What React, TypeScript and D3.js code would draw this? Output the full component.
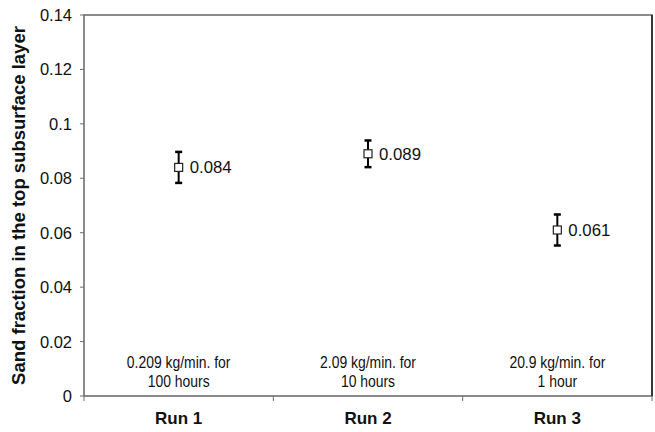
import React from "react";
import * as d3 from "d3";

const runs = ["Run 1", "Run 2", "Run 3"];
const fractions = [0.084, 0.089, 0.061];
const errors = [0.0057, 0.0049, 0.0057];
const feedLine1 = ["0.209 kg/min. for", "2.09 kg/min. for", "20.9 kg/min. for"];
const feedLine2 = ["100 hours", "10 hours", "1 hour"];
const yTicks = [0, 0.02, 0.04, 0.06, 0.08, 0.1, 0.12, 0.14];

const W = 655;
const H = 432;
const m = { left: 84, right: 3, top: 15, bottom: 36 };

export default function App() {
  const x = d3
    .scaleBand<string>()
    .domain(runs)
    .range([m.left, W - m.right])
    .paddingInner(0)
    .paddingOuter(0);
  const y = d3.scaleLinear().domain([0, 0.14]).range([H - m.bottom, m.top]);
  const font = "Arial, 'Liberation Sans', Helvetica, sans-serif";
  const axisColor = "#6e6e6e";
  const x0 = m.left;
  const x1 = W - m.right;
  const yb = y(0);
  const yt = y(0.14);
  const bw = x.bandwidth();

  return (
    <svg
      width={W}
      height={H}
      style={{ position: "absolute", left: 0, top: 0, background: "#fff" }}
      fontFamily={font}
    >
      <rect x={0} y={0} width={W} height={H} fill="#fff" />
      {/* plot frame */}
      <rect x={x0} y={yt} width={x1 - x0} height={yb - yt} fill="none" stroke={axisColor} strokeWidth={1.6} />
      <line x1={x1} y1={yt} x2={x1} y2={yb} stroke="#222" strokeWidth={1.6} />

      {/* y axis ticks and labels */}
      {yTicks.map((t) => (
        <g key={t}>
          <line x1={x0 - 4} x2={x0} y1={y(t)} y2={y(t)} stroke={axisColor} strokeWidth={1} />
          <text x={x0 - 12} y={y(t)} dy="0.36em" textAnchor="end" fontSize={16.5} fill="#111">
            {String(t)}
          </text>
        </g>
      ))}

      {/* x axis category separators */}
      {[0, 1, 2, 3].map((i) => (
        <line
          key={i}
          x1={x0 + i * bw}
          x2={x0 + i * bw}
          y1={yb}
          y2={yb + 5}
          stroke={axisColor}
          strokeWidth={1}
        />
      ))}
      {runs.map((r) => (
        <text
          key={r}
          x={(x(r) as number) + bw / 2}
          y={yb + 28}
          textAnchor="middle"
          fontSize={17}
          fontWeight="bold"
          fill="#111"
        >
          {r}
        </text>
      ))}

      {/* feed rate notes */}
      {runs.map((r, i) => {
        const cx = (x(r) as number) + bw / 2;
        return (
          <g key={r}>
            <text
              transform={`translate(${cx}, ${yb - 28}) scale(0.87, 1)`}
              textAnchor="middle"
              fontSize={16}
              fill="#111"
            >
              {feedLine1[i]}
            </text>
            <text
              transform={`translate(${cx}, ${yb - 9}) scale(0.87, 1)`}
              textAnchor="middle"
              fontSize={16}
              fill="#111"
            >
              {feedLine2[i]}
            </text>
          </g>
        );
      })}

      {/* data points with error bars */}
      {runs.map((r, i) => {
        const cx = (x(r) as number) + bw / 2;
        const cy = y(fractions[i]);
        const hi = y(fractions[i] + errors[i]);
        const lo = y(fractions[i] - errors[i]);
        return (
          <g key={r}>
            <line x1={cx} x2={cx} y1={hi} y2={lo} stroke="#000" strokeWidth={2} />
            <line x1={cx - 3.5} x2={cx + 3.5} y1={hi} y2={hi} stroke="#000" strokeWidth={2.5} />
            <line x1={cx - 3.5} x2={cx + 3.5} y1={lo} y2={lo} stroke="#000" strokeWidth={2.5} />
            <rect x={cx - 4} y={cy - 4} width={8} height={8} fill="#fff" stroke="#222" strokeWidth={1.2} />
            <text x={cx + 11} y={cy} dy="0.36em" fontSize={16.8} fill="#111">
              {fractions[i].toFixed(3)}
            </text>
          </g>
        );
      })}

      {/* y axis title */}
      <text
        transform={`translate(25, ${(yt + yb) / 2}) rotate(-90)`}
        textAnchor="middle"
        fontSize={18.5}
        fontWeight="bold"
        fill="#111"
      >
        Sand fraction in the top subsurface layer
      </text>
    </svg>
  );
}
